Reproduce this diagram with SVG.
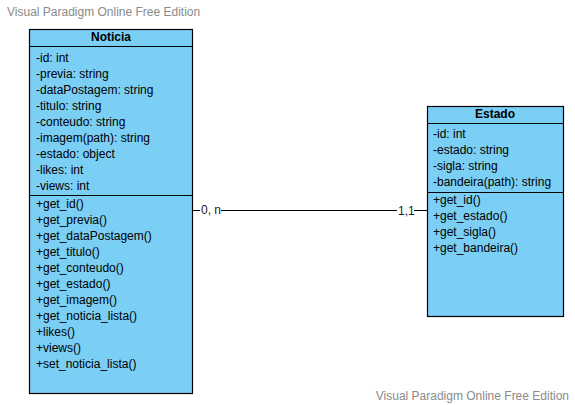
<svg xmlns="http://www.w3.org/2000/svg" width="575" height="405" viewBox="0 0 575 405">
<style>
.box{fill:#7bcff5;stroke:#000;stroke-width:1.2}
.ln{stroke:#000;stroke-width:1.2;fill:none}
text{font-family:"Liberation Sans",Arial,sans-serif;font-size:12px;fill:#000}
.t{font-weight:bold;text-anchor:middle}
.wm{fill:#8a8a8a}
.lb{fill:#222}
</style>
<rect width="575" height="405" fill="#fff"/>
<text class="wm" x="7" y="16">Visual Paradigm Online Free Edition</text>
<text class="wm" x="569" y="400" text-anchor="end">Visual Paradigm Online Free Edition</text>
<g id="connectors">
<line class="ln" x1="192.5" y1="210.5" x2="427.5" y2="210.5"/>
<rect x="200" y="203" width="21" height="14" fill="#fff"/>
<rect x="397" y="203" width="17" height="14" fill="#fff"/>
<text class="lb" x="201" y="214">0, n</text>
<text class="lb" x="398" y="215">1,1</text>
</g>
<g id="Noticia">
<rect class="box" x="29.5" y="29.5" width="163" height="364"/>
<line class="ln" x1="29.5" y1="46.5" x2="192.5" y2="46.5"/>
<line class="ln" x1="29.5" y1="195.5" x2="192.5" y2="195.5"/>
<text class="t" x="111" y="41">Noticia</text>
<text x="36" y="62">-id: int</text>
<text x="36" y="78">-previa: string</text>
<text x="36" y="94">-dataPostagem: string</text>
<text x="36" y="110">-titulo: string</text>
<text x="36" y="126">-conteudo: string</text>
<text x="36" y="142">-imagem(path): string</text>
<text x="36" y="158">-estado: object</text>
<text x="36" y="174">-likes: int</text>
<text x="36" y="190">-views: int</text>
<text x="36" y="208">+get_id()</text>
<text x="36" y="224">+get_previa()</text>
<text x="36" y="240">+get_dataPostagem()</text>
<text x="36" y="256">+get_titulo()</text>
<text x="36" y="272">+get_conteudo()</text>
<text x="36" y="288">+get_estado()</text>
<text x="36" y="304">+get_imagem()</text>
<text x="36" y="320">+get_noticia_lista()</text>
<text x="36" y="336">+likes()</text>
<text x="36" y="352">+views()</text>
<text x="36" y="368">+set_noticia_lista()</text>
</g>
<g id="Estado">
<rect class="box" x="427.5" y="106.5" width="136" height="210"/>
<line class="ln" x1="427.5" y1="123.5" x2="563.5" y2="123.5"/>
<line class="ln" x1="427.5" y1="192.5" x2="563.5" y2="192.5"/>
<text class="t" x="495" y="118">Estado</text>
<text x="433" y="138">-id: int</text>
<text x="433" y="154">-estado: string</text>
<text x="433" y="170">-sigla: string</text>
<text x="433" y="186">-bandeira(path): string</text>
<text x="433" y="204">+get_id()</text>
<text x="433" y="220">+get_estado()</text>
<text x="433" y="236">+get_sigla()</text>
<text x="433" y="252">+get_bandeira()</text>
</g>
</svg>
